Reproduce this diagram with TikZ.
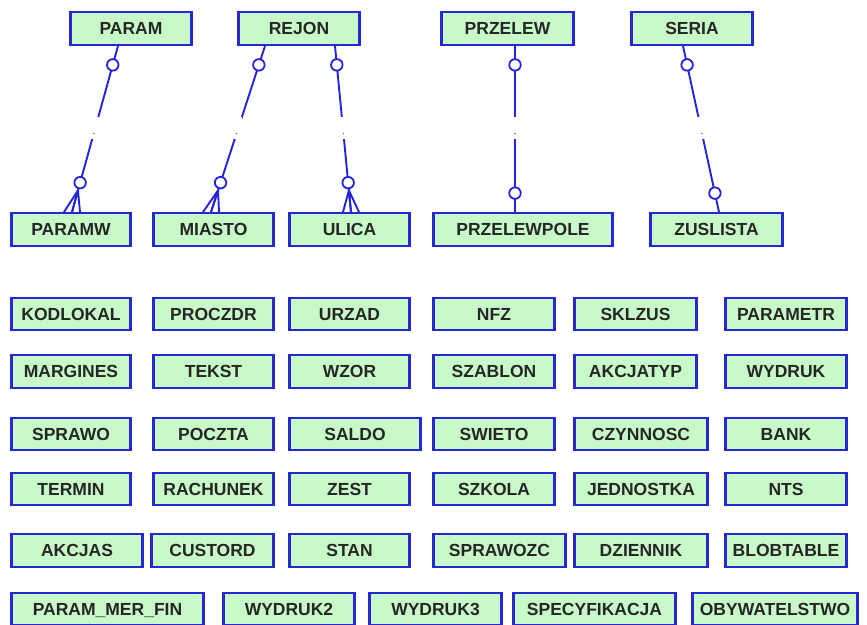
\documentclass[tikz,border=0pt]{standalone}
\usepackage{fontspec}
\setmainfont{Liberation Sans}
\usetikzlibrary{positioning}
\definecolor{tabfill}{RGB}{200,249,200}
\definecolor{tabline}{RGB}{40,40,210}
\definecolor{relline}{RGB}{35,35,220}

\begin{document}
\begin{tikzpicture}[x=1pt, y=-1pt,
    tbl/.style={draw=tabline, fill=tabfill, line width=2.4pt, minimum height=32.5pt, inner sep=0pt,
      text height=12.5pt, text depth=0pt,
      font=\fontsize{17.5}{20}\selectfont\bfseries, text=black!85},
    rel/.style={draw=relline, line width=1.9pt},
    opt/.style={circle, draw=relline, fill=white, line width=1.8pt, minimum size=11.5pt, inner sep=0pt},
    relgap/.style={fill=white, inner sep=0pt, minimum width=8pt, minimum height=22pt},
    reldot/.style={circle, fill=black!55, inner sep=0pt, minimum size=1.8pt}]
      \useasboundingbox (0,0) rectangle (867,624);
      % tables with relationships
      \node [tbl, minimum width=121pt] (param) at (131,28.5) {PARAM};
      \node [tbl, minimum width=121pt] (rejon) at (299,28.5) {REJON};
      \node [tbl, minimum width=132pt] (przelew) at (507.5,28.5) {PRZELEW};
      \node [tbl, minimum width=121pt] (seria) at (692,28.5) {SERIA};
      \node [tbl, minimum width=119pt] (paramw) at (71,229.5) {PARAMW};
      \node [tbl, minimum width=120pt] (miasto) at (213.5,229.5) {MIASTO};
      \node [tbl, minimum width=120pt] (ulica) at (349.5,229.5) {ULICA};
      \node [tbl, minimum width=179pt] (przelewpole) at (523,229.5) {PRZELEWPOLE};
      \node [tbl, minimum width=132pt] (zuslista) at (716.5,229.5) {ZUSLISTA};
      % free tables
      \node [tbl, minimum width=119pt] (kodlokal) at (71,314) {KODLOKAL};
      \node [tbl, minimum width=120pt] (proczdr) at (213.5,314) {PROCZDR};
      \node [tbl, minimum width=120pt] (urzad) at (349.5,314) {URZAD};
      \node [tbl, minimum width=121pt] (nfz) at (494,314) {NFZ};
      \node [tbl, minimum width=122pt] (sklzus) at (635.5,314) {SKLZUS};
      \node [tbl, minimum width=121pt] (parametr) at (786,314) {PARAMETR};
      \node [tbl, minimum width=119pt] (margines) at (71,371.5) {MARGINES};
      \node [tbl, minimum width=120pt] (tekst) at (213.5,371.5) {TEKST};
      \node [tbl, minimum width=120pt] (wzor) at (349.5,371.5) {WZOR};
      \node [tbl, minimum width=121pt] (szablon) at (494,371.5) {SZABLON};
      \node [tbl, minimum width=122pt] (akcjatyp) at (635.5,371.5) {AKCJATYP};
      \node [tbl, minimum width=121pt] (wydruk) at (786,371.5) {WYDRUK};
      \node [tbl, minimum width=119pt] (sprawo) at (71,434) {SPRAWO};
      \node [tbl, minimum width=120pt] (poczta) at (213.5,434) {POCZTA};
      \node [tbl, minimum width=131pt] (saldo) at (355,434) {SALDO};
      \node [tbl, minimum width=121pt] (swieto) at (494,434) {SWIETO};
      \node [tbl, minimum width=133pt] (czynnosc) at (641,434) {CZYNNOSC};
      \node [tbl, minimum width=121pt] (bank) at (786,434) {BANK};
      \node [tbl, minimum width=119pt] (termin) at (71,489) {TERMIN};
      \node [tbl, minimum width=120pt] (rachunek) at (213.5,489) {RACHUNEK};
      \node [tbl, minimum width=120pt] (zest) at (349.5,489) {ZEST};
      \node [tbl, minimum width=121pt] (szkola) at (494,489) {SZKOLA};
      \node [tbl, minimum width=133pt] (jednostka) at (641,489) {JEDNOSTKA};
      \node [tbl, minimum width=121pt] (nts) at (786,489) {NTS};
      \node [tbl, minimum width=131pt] (akcjas) at (77,550.5) {AKCJAS};
      \node [tbl, minimum width=122pt] (custord) at (212.5,550.5) {CUSTORD};
      \node [tbl, minimum width=120pt] (stan) at (349.5,550.5) {STAN};
      \node [tbl, minimum width=132pt] (sprawozc) at (499.5,550.5) {SPRAWOZC};
      \node [tbl, minimum width=133pt] (dziennik) at (641,550.5) {DZIENNIK};
      \node [tbl, minimum width=121pt] (blobtable) at (786,550.5) {BLOBTABLE};
      \node [tbl, minimum width=192pt] (parammerfin) at (107.5,609) {PARAM\_MER\_FIN};
      \node [tbl, minimum width=131pt] (wydruk2) at (289,609) {WYDRUK2};
      \node [tbl, minimum width=132pt] (wydruk3) at (435.5,609) {WYDRUK3};
      \node [tbl, minimum width=162pt] (specyfikacja) at (594.5,609) {SPECYFIKACJA};
      \node [tbl, minimum width=165pt] (obywatelstwo) at (775,609) {OBYWATELSTWO};
      % ends of the relationship lines
      \coordinate (t1) at ([xshift=-13pt]param.south);
      \coordinate (b1) at ([xshift=1pt]paramw.north);
      \coordinate (t2) at ([xshift=-34pt]rejon.south);
      \coordinate (b2) at ([xshift=-2.5pt]miasto.north);
      \coordinate (t3) at ([xshift=36pt]rejon.south);
      \coordinate (b3) at ([xshift=1.5pt]ulica.north);
      \coordinate (t4) at ([xshift=7.5pt]przelew.south);
      \coordinate (b4) at ([xshift=-8pt]przelewpole.north);
      \coordinate (t5) at ([xshift=-9pt]seria.south);
      \coordinate (b5) at ([xshift=2.5pt]zuslista.north);
      % one to many
      \draw [rel] (t1) -- (b1)
        node [relgap, pos=.494] {} node [reldot, pos=.527] {}
        node [opt, pos=.114] {} node [opt, pos=.823] {} coordinate [pos=.87] (f1);
      \draw [rel] (f1) -- ([xshift=-8pt]b1) (f1) -- (b1) (f1) -- ([xshift=8pt]b1);
      \draw [rel] (t2) -- (b2)
        node [relgap, pos=.494] {} node [reldot, pos=.527] {}
        node [opt, pos=.114] {} node [opt, pos=.823] {} coordinate [pos=.87] (f2);
      \draw [rel] (f2) -- ([xshift=-8pt]b2) (f2) -- (b2) (f2) -- ([xshift=8pt]b2);
      \draw [rel] (t3) -- (b3)
        node [relgap, pos=.494] {} node [reldot, pos=.527] {}
        node [opt, pos=.114] {} node [opt, pos=.823] {} coordinate [pos=.87] (f3);
      \draw [rel] (f3) -- ([xshift=-8pt]b3) (f3) -- (b3) (f3) -- ([xshift=8pt]b3);
      % one to one
      \draw [rel] (t4) -- (b4)
        node [relgap, pos=.494] {} node [reldot, pos=.527] {}
        node [opt, pos=.114] {} node [opt, pos=.886] {};
      \draw [rel] (t5) -- (b5)
        node [relgap, pos=.494] {} node [reldot, pos=.527] {}
        node [opt, pos=.114] {} node [opt, pos=.886] {};
\end{tikzpicture}
\end{document}
